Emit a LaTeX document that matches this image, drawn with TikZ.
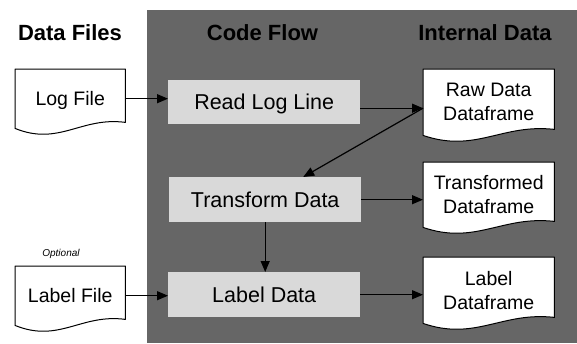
\documentclass[tikz,border=0pt]{standalone}
\usepackage{fontspec}
\setmainfont{Liberation Sans}
\usetikzlibrary{arrows.meta,calc}
\definecolor{panel}{RGB}{102,102,102}
\definecolor{boxfill}{RGB}{217,217,217}
\pgfdeclarelayer{bg}
\pgfdeclarelayer{docs}
\pgfsetlayers{bg,docs,main}
\tikzset{
  title/.style={font=\bfseries\fontsize{22}{26}\selectfont, anchor=base},
  stepbox/.style={fill=boxfill, minimum width=192pt, inner sep=0pt, anchor=north west,
    font=\fontsize{21.5}{26}\selectfont, text depth=0pt},
  docnode/.style={inner sep=0pt, anchor=north west, align=center,
    font=\fontsize{19.5}{24}\selectfont, text depth=0pt},
  docline/.style={draw=black, line width=1pt, fill=white, line join=round},
  arr/.style={line width=1.2pt, -{Triangle[length=11pt,width=9pt]}},
}
\newcommand\docoutline[1]{%
  \draw[docline] (#1.south west) -- (#1.north west) -- (#1.north east)
    -- ($(#1.south east)+(0,-6)$)
    .. controls ($(#1.south west)!0.6!(#1.south east)+(0,-12)$)
    and ($(#1.south west)!0.4!(#1.south east)+(0,18)$) .. (#1.south west) -- cycle;}
\begin{document}
\begin{tikzpicture}[x=1pt,y=-1pt]
\useasboundingbox (0,0) rectangle (577,343);
\begin{pgfonlayer}{bg}
  \fill[panel] (147,10) rectangle (577,343);
\end{pgfonlayer}

% titles
\node[title] (t1) at (70,40) {Data Files};
\node[title] (t2) at (262.5,40) {Code Flow};
\node[title] (t3) at (485,40) {Internal Data};
\node[font=\itshape\fontsize{10}{12}\selectfont, anchor=base] (opt) at (61,256.5) {Optional};

% documents
\node[docnode, minimum width=110pt, minimum height=59pt] (logfile) at (15,69) {Log File};
\node[docnode, minimum width=110pt, minimum height=59pt] (labelfile) at (15,266) {Label File};
\node[docnode, minimum width=131pt, minimum height=66pt] (rawdf) at (423,69) {Raw Data\\Dataframe};
\node[docnode, minimum width=131pt, minimum height=65pt] (transdf) at (423,162) {Transformed\\Dataframe};
\node[docnode, minimum width=131pt, minimum height=66pt] (labeldf) at (423,257) {Label\\Dataframe};
\begin{pgfonlayer}{docs}
  \docoutline{logfile}
  \docoutline{labelfile}
  \docoutline{rawdf}
  \docoutline{transdf}
  \docoutline{labeldf}
\end{pgfonlayer}

% process boxes
\node[stepbox, minimum height=44pt] (readlog) at (168,80) {Read Log Line};
\node[stepbox, minimum height=45pt] (transform) at (169,177) {Transform Data};
\node[stepbox, minimum height=45pt] (labeldata) at (168,272) {Label Data};

% connectors
\coordinate (rawin) at ([yshift=-6pt]rawdf.west);
\draw[arr] (logfile.east) -- (logfile.east -| readlog.west);
\draw[arr] (readlog.east |- rawin) -- (rawin);
\draw[arr] (rawin) -- ([xshift=38pt]transform.north);
\draw[arr] (transform.east) -- (transform.east -| transdf.west);
\draw[arr] (transform.south) -- (transform.south |- labeldata.north);
\draw[arr] (labelfile.east) -- (labelfile.east -| labeldata.west);
\draw[arr] (labeldata.east) -- (labeldata.east -| labeldf.west);
\end{tikzpicture}
\end{document}
